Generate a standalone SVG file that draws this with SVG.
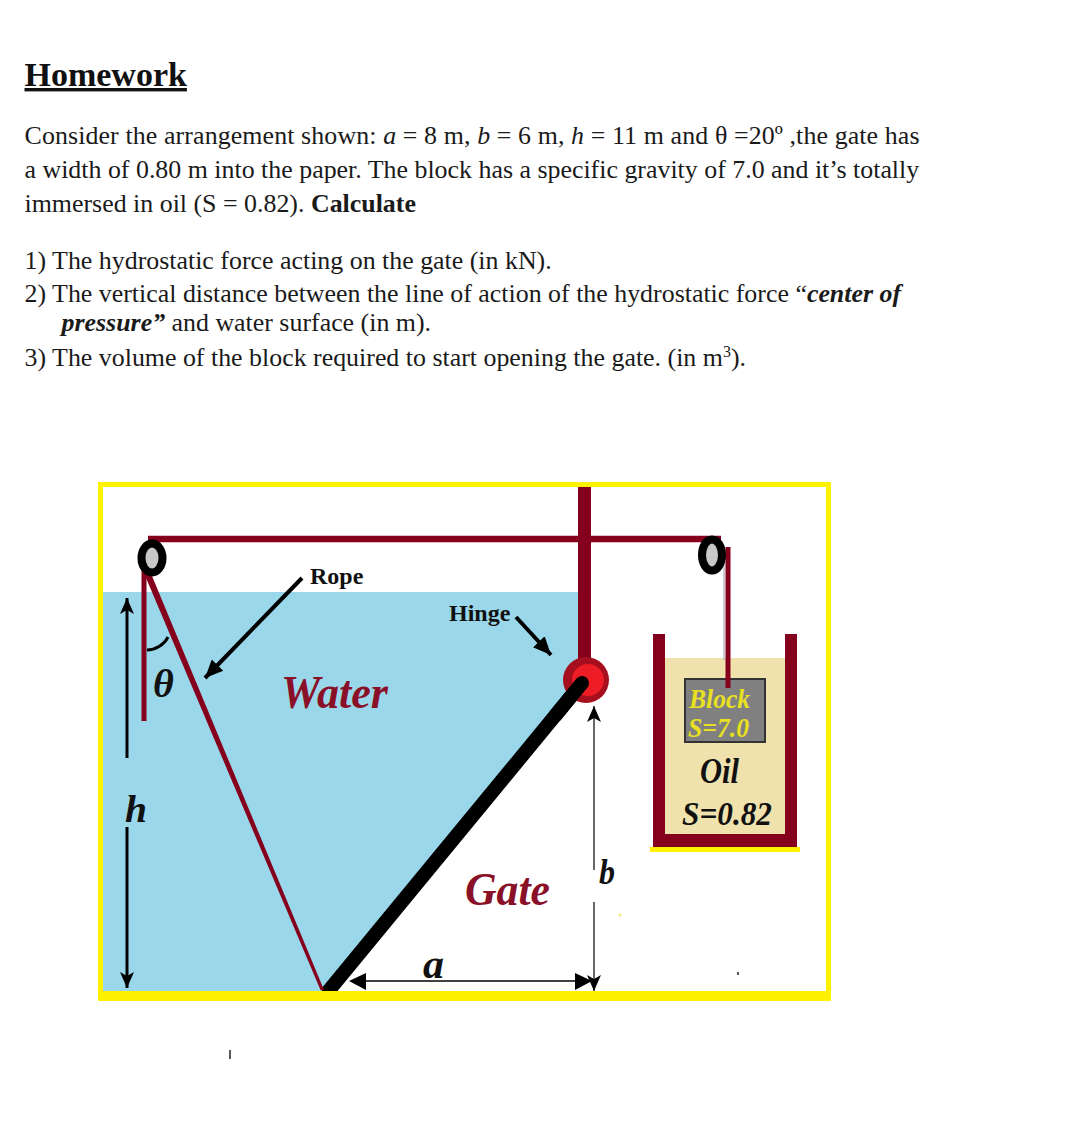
<svg xmlns="http://www.w3.org/2000/svg" width="1080" height="1143" viewBox="0 0 1080 1143">
<style>
.t{font-family:"Liberation Serif","Times New Roman",serif;font-size:25.9px;fill:#1a1a1a}
.b{font-weight:bold}
.i{font-style:italic}
.bi{font-weight:bold;font-style:italic}
.lab{font-family:"Liberation Serif",serif;font-weight:bold;font-size:24px;fill:#111}
.red{font-family:"Liberation Serif",serif;font-style:italic;font-weight:bold;fill:#8a1028}
.blk{font-family:"Liberation Serif",serif;font-style:italic;font-weight:bold;fill:#111}
.yel{font-family:"Liberation Serif",serif;font-style:italic;font-weight:bold;fill:#e8e020;font-size:28px}
.rope{fill:none;stroke:#85001c}
.arr{fill:none;stroke:#000}
</style>
<defs>
<marker id="ah" markerUnits="userSpaceOnUse" markerWidth="18" markerHeight="14" refX="16" refY="7" orient="auto"><path d="M0 0L16 7L0 14L4 7Z" fill="#000"/></marker>
<marker id="as" markerUnits="userSpaceOnUse" markerWidth="20" markerHeight="20" refX="18" refY="10" orient="auto"><path d="M0 2L18 10L0 18Z" fill="#000"/></marker>
</defs>
<rect width="1080" height="1143" fill="#fff"/>
<g id="text">
<text class="t b" x="24.500" y="86" style="font-size:34px;fill:#111" text-decoration="underline">Homework</text>
<text class="t" x="24.500" y="144" textLength="895">Consider the arrangement shown: <tspan class="i">a</tspan> = 8 m, <tspan class="i">b</tspan> = 6 m, <tspan class="i">h</tspan> = 11 m and θ =20º ,the gate has</text>
<text class="t" x="24.500" y="178">a width of 0.80 m into the paper. The block has a specific gravity of 7.0 and it’s totally</text>
<text class="t" x="24.500" y="212">immersed in oil (S = 0.82). <tspan class="b">Calculate</tspan></text>
<text class="t" x="24.500" y="269">1) The hydrostatic force acting on the gate (in kN).</text>
<text class="t" x="24.500" y="302">2) The vertical distance between the line of action of the hydrostatic force “<tspan class="bi">center of</tspan></text>
<text class="t" x="61.500" y="331"><tspan class="bi">pressure”</tspan> and water surface (in m).</text>
<text class="t" x="24.500" y="366">3) The volume of the block required to start opening the gate. (in m<tspan dy="-9" style="font-size:16px">3</tspan><tspan dy="9">).</tspan></text>
</g>
<g id="water"><path d="M103 592H579V683L328 992H103Z" fill="#9bd7ea"/></g>
<g id="gate"><path d="M582 683L326 994" stroke="#000" stroke-width="14" fill="none"/><circle cx="582" cy="683" r="7" fill="#000"/></g>
<g id="frame"><path d="M100.500 484.500H828.500V996H100.500Z" fill="none" stroke="#fff200" stroke-width="5"/><rect x="98" y="991" width="733" height="10" fill="#fff200"/></g>
<g id="tank">
<rect x="665" y="658" width="120" height="176" fill="#efe2ac"/>
<path d="M653 634H665V834H785V634H797V847H653Z" fill="#85001c"/>
<rect x="650" y="847" width="150" height="5" fill="#fff200"/>
</g>
<g id="block"><rect x="685" y="679" width="80" height="63" fill="#808080" stroke="#333" stroke-width="2"/>
<text class="yel" x="689" y="708" textLength="61" lengthAdjust="spacingAndGlyphs">Block</text><text class="yel" x="688" y="737" textLength="61" lengthAdjust="spacingAndGlyphs">S=7.0</text></g>
<g id="post"><rect x="578" y="487" width="13" height="180" fill="#85001c"/></g>
<g id="connectors">
<path class="rope" stroke-width="6.500" d="M148 539H721"/>
<path class="rope" stroke-width="5" d="M144 570V721"/>
<path class="rope" stroke-width="5" d="M728 547V688"/>
<path d="M724 555V660" stroke="#bbb" stroke-width="1.500"/>
<path d="M143.500 572L149.500 570L324 990L320.500 990Z" fill="#85001c"/>
<path class="arr" stroke-width="3" d="M147 650C155 650 164 645 168 637"/>
<path class="arr" stroke-width="4" d="M302 578L205 678" marker-end="url(#as)"/>
<path class="arr" stroke-width="4" d="M516 617L551 655" marker-end="url(#as)"/>
<path class="arr" stroke-width="3" d="M127 758V598" marker-end="url(#ah)"/>
<path class="arr" stroke-width="3" d="M127 827V988" marker-end="url(#ah)"/>
<path class="arr" stroke-width="1.200" d="M594 870V706" marker-end="url(#ah)"/>
<path class="arr" stroke-width="1.200" d="M594 902V991" marker-end="url(#ah)"/>
<path class="arr" stroke-width="1.500" d="M365 981H575"/>
<path d="M349 981L366 973V990Z M592 981L575 973V990Z" fill="#000"/>
</g>
<g id="hinge"><circle cx="586" cy="680" r="23" fill="#a50f1e"/><circle cx="588" cy="680" r="16" fill="#ee1c25"/><path d="M582 683L555 716" stroke="#000" stroke-width="14"/><circle cx="582" cy="683" r="7" fill="#000"/></g>
<g id="pulley-left"><ellipse cx="152" cy="558" rx="10.500" ry="14.500" fill="#c8c8c8" stroke="#000" stroke-width="8"/></g>
<g id="pulley-right"><ellipse cx="712" cy="555" rx="10" ry="15.500" fill="#c8c8c8" stroke="#000" stroke-width="8"/></g>
<g id="labels">
<text class="lab" x="310" y="584">Rope</text>
<text class="lab" x="449" y="621">Hinge</text>
<text class="red" x="281" y="708" style="font-size:47px" textLength="107" lengthAdjust="spacingAndGlyphs">Water</text>
<text class="red" x="465" y="905" style="font-size:47px" textLength="85" lengthAdjust="spacingAndGlyphs">Gate</text>
<text class="blk" x="153" y="697" style="font-size:40px">θ</text>
<text class="blk" x="125" y="822" style="font-size:38px" textLength="22" lengthAdjust="spacingAndGlyphs">h</text>
<text class="blk" x="423" y="978" style="font-size:42px" textLength="21" lengthAdjust="spacingAndGlyphs">a</text>
<text class="blk" x="599" y="884" style="font-size:36px" textLength="16" lengthAdjust="spacingAndGlyphs">b</text>
<text class="blk" x="700" y="783" style="font-size:36px" textLength="39" lengthAdjust="spacingAndGlyphs">Oil</text>
<text class="blk" x="682" y="825" style="font-size:34px" textLength="90" lengthAdjust="spacingAndGlyphs">S=0.82</text>
</g>
<path d="M230 1050V1059M738 972V975" stroke="#222" stroke-width="1.500"/>
<circle cx="620" cy="915" r="1.500" fill="#f0ee80"/>
</svg>
